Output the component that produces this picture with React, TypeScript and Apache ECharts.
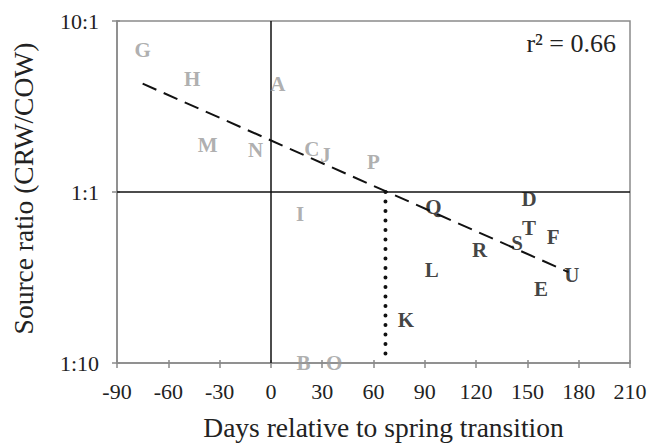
import React, { useEffect, useRef } from "react";
import * as echarts from "echarts";

// Sites sampled before the transition threshold (grey) and after it (black)
const earlyLabels = ["G", "H", "A", "M", "N", "C", "J", "P", "I", "B", "O"];
const earlyDays = [-75, -46, 4, -37, -9, 24, 32, 60, 17, 19, 37];
const earlyRatios = [6.8, 4.6, 4.3, 1.88, 1.75, 1.79, 1.64, 1.5, 0.74, 0.1, 0.1];

const lateLabels = ["D", "Q", "T", "F", "S", "R", "L", "U", "E", "K"];
const lateDays = [151, 95, 151, 165, 144, 122, 94, 176, 158, 79];
const lateRatios = [0.91, 0.82, 0.62, 0.545, 0.5, 0.456, 0.348, 0.326, 0.272, 0.178];

// Log-linear regression line end points
const fitDays = [-75, 174];
const fitRatios = [4.3, 0.34];

// Day at which the fitted ratio crosses 1:1
const crossDay = 67;
const crossRatios = [1, 0.11];

// Day axis range and ratio tick labels (log10 exponent -1, 0, 1)
const dayMin = -90;
const dayMax = 210;
const dayStep = 30;
const ratioMin = 0.1;
const ratioMax = 10;
const ratioTickLabels = ["1:10", "1:1", "10:1"];

const rSquaredText = "r\u00B2 = 0.66";

const SERIF = "'Liberation Serif', 'Times New Roman', serif";
const GREY = "#9a9a9a";
const INK = "#111";
const FRAME = "#8a8a8a";

const plotRect = { left: 117, right: 20, top: 21, bottom: 81, outerBoundsMode: "none" };

export default function App() {
  const ref = useRef<HTMLDivElement>(null);

  useEffect(() => {
    if (!ref.current) return;
    const chart = echarts.init(ref.current, null, { renderer: "svg" });

    const letterSeries = (labels: string[], days: number[], ratios: number[], color: string) => ({
      type: "scatter",
      symbolSize: 1,
      itemStyle: { color: "rgba(0,0,0,0)" },
      clip: false,
      z: 5,
      label: {
        show: true,
        position: "inside",
        formatter: "{b}",
        fontFamily: SERIF,
        fontWeight: "bold",
        fontSize: 21,
        color,
      },
      data: labels.map((name, i) => ({ name, value: [days[i], ratios[i]] })),
    });

    const tickStyle = { color: FRAME, width: 1.5 };

    chart.setOption({
      animation: false,
      backgroundColor: "#fff",
      grid: [
        { ...plotRect, containLabel: false, show: true, borderColor: FRAME, borderWidth: 1.5 },
        // twin grid carrying the inward half of the crossing tick marks
        { ...plotRect, containLabel: false, show: false },
      ],
      xAxis: [
        {
          type: "value",
          gridIndex: 0,
          min: dayMin,
          max: dayMax,
          interval: dayStep,
          name: "Days relative to spring transition",
          nameLocation: "middle",
          nameGap: 50,
          nameTextStyle: {
            fontFamily: SERIF,
            fontSize: 27.5,
            color: "#222",
            padding: [0, 0, 0, 20],
          },
          axisLine: { show: true, onZero: false, lineStyle: { color: FRAME, width: 1.5 } },
          axisTick: { show: true, length: 5, lineStyle: tickStyle },
          axisLabel: { fontFamily: SERIF, fontSize: 22, color: "#222", margin: 17 },
          splitLine: { show: false },
        },
        {
          type: "value",
          gridIndex: 1,
          min: dayMin,
          max: dayMax,
          interval: dayStep,
          position: "bottom",
          axisLine: { show: false, onZero: false },
          axisTick: { show: true, inside: true, length: 3, lineStyle: tickStyle },
          axisLabel: { show: false },
          splitLine: { show: false },
        },
      ],
      yAxis: [
        {
          type: "log",
          gridIndex: 0,
          logBase: 10,
          min: ratioMin,
          max: ratioMax,
          name: "Source ratio (CRW/COW)",
          nameLocation: "middle",
          nameGap: 80,
          nameTextStyle: {
            fontFamily: SERIF,
            fontSize: 27.5,
            color: "#222",
            padding: [0, 0, 0, 7],
          },
          axisLine: { show: true, onZero: false, lineStyle: { color: FRAME, width: 1.5 } },
          axisTick: { show: true, length: 5, lineStyle: tickStyle },
          axisLabel: {
            fontFamily: SERIF,
            fontSize: 22,
            color: "#222",
            margin: 18,
            formatter: (v: number) => ratioTickLabels[Math.round(Math.log10(v)) + 1] ?? "",
          },
          splitLine: { show: false },
        },
        {
          type: "log",
          gridIndex: 1,
          logBase: 10,
          min: ratioMin,
          max: ratioMax,
          position: "left",
          axisLine: { show: false, onZero: false },
          axisTick: { show: true, inside: true, length: 3, lineStyle: tickStyle },
          axisLabel: { show: false },
          splitLine: { show: false },
        },
      ],
      graphic: [
        {
          type: "text",
          right: 34,
          top: 30,
          style: { text: rSquaredText, fontFamily: SERIF, fontSize: 26, fill: "#222" },
        },
      ],
      series: [
        {
          type: "line",
          data: [],
          markLine: {
            silent: true,
            symbol: "none",
            label: { show: false },
            lineStyle: { color: INK, width: 1.5, type: "solid" },
            data: [{ xAxis: 0 }, { yAxis: 1 }],
          },
        },
        {
          type: "line",
          symbol: "none",
          z: 4,
          lineStyle: { color: INK, width: 2, type: [15, 8] },
          data: fitDays.map((d, i) => [d, fitRatios[i]]),
        },
        {
          type: "line",
          symbol: "none",
          z: 4,
          lineStyle: { color: INK, width: 4, type: [0.1, 9.4], cap: "round" },
          data: crossRatios.map((r) => [crossDay, r]),
        },
        letterSeries(earlyLabels, earlyDays, earlyRatios, GREY),
        letterSeries(lateLabels, lateDays, lateRatios, INK),
        {
          type: "line",
          xAxisIndex: 1,
          yAxisIndex: 1,
          data: [],
        },
      ],
    });

    return () => chart.dispose();
  }, []);

  return (
    <div
      ref={ref}
      style={{ position: "absolute", left: 0, top: 0, width: 650, height: 444 }}
    />
  );
}
